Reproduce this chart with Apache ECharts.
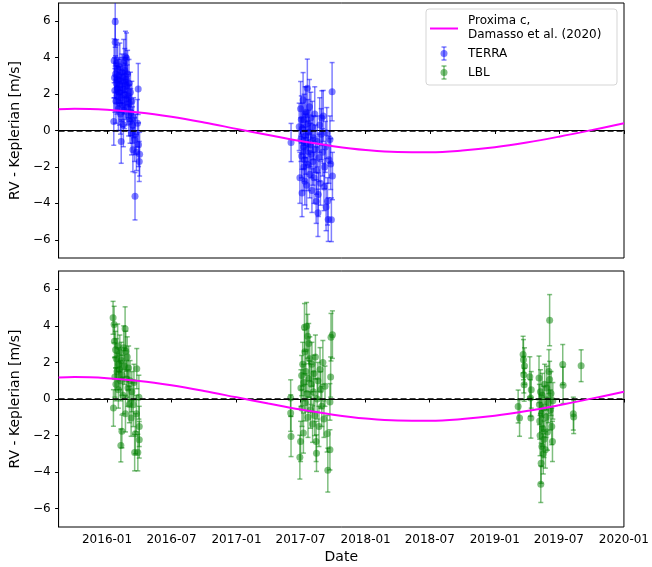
<!DOCTYPE html>
<html>
<head>
<meta charset="utf-8">
<script src="https://cdn.jsdelivr.net/npm/echarts@6/dist/echarts.min.js"></script>
<style>
  html, body { margin: 0; padding: 0; background: #fff; }
  #chart { width: 652px; height: 567px; }
</style>
</head>
<body>
<div id="chart"></div>
<script>
// [date, RV - Keplerian (m/s), error (m/s)]
const terra = [
  ['2016-01-20', 0.49, 1.3], ['2016-01-21', 3.83, 1.2], ['2016-01-22', 2.9, 1.1], ['2016-01-23', 2.2, 1.2],
  ['2016-01-24', 5.97, 1.4], ['2016-01-24', 4.84, 1.3], ['2016-01-25', 3.1, 1.0], ['2016-01-26', 1.6, 1.2],
  ['2016-01-27', 2.6, 1.1], ['2016-01-28', 3.69, 1.3], ['2016-01-29', 1.9, 1.0], ['2016-01-30', 2.3, 1.2],
  ['2016-01-31', 3.4, 1.3], ['2016-02-01', 2.8, 1.1], ['2016-02-02', 1.2, 1.2], ['2016-02-03', 3.0, 1.0],
  ['2016-02-04', 2.1, 1.1], ['2016-02-05', 1.5, 1.2], ['2016-02-06', 3.5, 1.3], ['2016-02-07', 2.5, 1.0],
  ['2016-02-08', 0.9, 1.1], ['2016-02-09', 2.7, 1.2], ['2016-02-10', -0.6, 1.2], ['2016-02-11', 1.8, 1.3],
  ['2016-02-12', 3.2, 1.0], ['2016-02-13', 2.2, 1.1], ['2016-02-14', 1.4, 1.2], ['2016-02-15', 2.9, 1.1],
  ['2016-02-16', 0.31, 1.2], ['2016-02-17', 3.7, 1.3], ['2016-02-18', 2.0, 1.1], ['2016-02-19', 1.1, 1.0],
  ['2016-02-20', 3.3, 1.2], ['2016-02-21', 2.4, 1.3], ['2016-02-22', 4.05, 1.4], ['2016-02-23', 1.7, 1.1],
  ['2016-02-24', 2.8, 1.2], ['2016-02-25', 3.96, 1.4], ['2016-02-26', 1.3, 1.0], ['2016-02-27', 2.5, 1.1],
  ['2016-02-28', 3.1, 1.3], ['2016-03-01', 1.9, 1.2], ['2016-03-02', 0.8, 1.1], ['2016-03-03', 2.6, 1.3],
  ['2016-03-04', 1.5, 1.0], ['2016-03-06', 0.5, 1.2], ['2016-03-07', 2.1, 1.1], ['2016-03-08', 1.0, 1.3],
  ['2016-03-10', -0.14, 1.2], ['2016-03-11', 1.6, 1.1], ['2016-03-13', 0.3, 1.0], ['2016-03-14', -1.06, 1.2],
  ['2016-03-16', 0.7, 1.1], ['2016-03-20', -3.61, 1.3], ['2016-03-19', -0.5, 1.2], ['2016-03-21', -0.2, 1.1],
  ['2016-03-24', -1.2, 1.0], ['2016-03-27', 0.4, 1.3], ['2016-03-29', 2.28, 1.4], ['2016-03-30', -0.78, 1.2],
  ['2016-04-01', -1.70, 1.1], ['2016-04-02', -1.3, 1.2],
  ['2017-06-04', -0.66, 1.05], ['2017-06-27', 0.2, 1.3], ['2017-06-29', -2.6, 1.4], ['2017-07-01', 1.19, 1.5],
  ['2017-07-02', -0.5, 1.2], ['2017-07-03', 0.6, 1.3], ['2017-07-04', -1.4, 1.2], ['2017-07-05', -3.43, 1.3],
  ['2017-07-06', 0.1, 1.4], ['2017-07-08', 1.68, 1.5], ['2017-07-09', -0.9, 1.2], ['2017-07-10', -2.0, 1.3],
  ['2017-07-11', 0.59, 1.4], ['2017-07-12', -1.6, 1.2], ['2017-07-13', -2.79, 1.3], ['2017-07-14', 0.9, 1.5],
  ['2017-07-15', -0.3, 1.2], ['2017-07-16', -1.1, 1.3], ['2017-07-17', 1.0, 1.4], ['2017-07-18', -3.0, 1.3],
  ['2017-07-20', 2.32, 1.6], ['2017-07-21', -0.7, 1.2], ['2017-07-22', 0.4, 1.3], ['2017-07-23', -1.9, 1.4],
  ['2017-07-24', -0.1, 1.2], ['2017-07-26', 1.3, 1.5], ['2017-07-27', -2.4, 1.3], ['2017-07-28', -0.8, 1.2],
  ['2017-07-30', 0.7, 1.4], ['2017-07-31', -1.3, 1.3], ['2017-08-02', -3.3, 1.2], ['2017-08-03', 0.2, 1.4],
  ['2017-08-05', -1.7, 1.3], ['2017-08-06', -0.4, 1.2], ['2017-08-08', -2.6, 1.4], ['2017-08-10', 0.9, 1.5],
  ['2017-08-12', -1.0, 1.3], ['2017-08-14', -3.9, 1.2], ['2017-08-15', -2.2, 1.3], ['2017-08-17', -0.6, 1.4],
  ['2017-08-19', -4.52, 1.3], ['2017-08-20', -3.52, 1.2], ['2017-08-22', -1.5, 1.3], ['2017-08-24', 0.3, 1.5],
  ['2017-08-26', -2.9, 1.2], ['2017-08-28', -0.2, 1.4], ['2017-08-30', 0.68, 1.5], ['2017-09-01', -1.2, 1.3],
  ['2017-09-03', 0.8, 1.4], ['2017-09-05', -3.1, 1.3], ['2017-09-07', -2.0, 1.2], ['2017-09-09', -0.9, 1.4],
  ['2017-09-11', -4.2, 1.3], ['2017-09-13', -0.14, 1.4], ['2017-09-15', -3.89, 1.3], ['2017-09-17', -4.89, 1.2],
  ['2017-09-19', -1.6, 1.3], ['2017-09-22', -0.5, 1.3], ['2017-09-24', -1.84, 1.4], ['2017-09-26', -4.9, 1.2],
  ['2017-09-28', 2.13, 1.6], ['2017-09-29', -2.5, 1.3]
];

const lbl = [
  ['2016-01-18', 4.44, 0.9], ['2016-01-19', -0.49, 1.0], ['2016-01-21', 4.07, 1.0], ['2016-01-22', 3.16, 0.9],
  ['2016-01-23', 1.2, 1.1], ['2016-01-25', 2.70, 1.0], ['2016-01-26', 0.8, 0.9], ['2016-01-27', 2.2, 1.1],
  ['2016-01-29', 1.5, 1.0], ['2016-01-31', 2.9, 1.2], ['2016-02-02', 0.5, 1.0], ['2016-02-03', 1.9, 0.9],
  ['2016-02-05', 1.61, 1.1], ['2016-02-06', 2.5, 1.0], ['2016-02-08', 1.0, 1.1], ['2016-02-09', -2.54, 0.9],
  ['2016-02-10', 2.1, 1.0], ['2016-02-12', -1.77, 0.9], ['2016-02-13', 1.3, 1.1], ['2016-02-15', 0.2, 1.0],
  ['2016-02-17', 2.8, 1.2], ['2016-02-19', 1.8, 1.0], ['2016-02-21', 3.84, 1.2], ['2016-02-22', -0.80, 1.0],
  ['2016-02-23', 2.61, 1.1], ['2016-02-25', 1.1, 1.0], ['2016-02-27', 2.3, 1.1], ['2016-02-29', 0.6, 1.0],
  ['2016-03-02', 1.7, 1.2], ['2016-03-04', -0.3, 1.0], ['2016-03-06', 1.0, 1.1], ['2016-03-09', -1.04, 1.0],
  ['2016-03-11', 0.4, 1.1], ['2016-03-19', -2.93, 1.0], ['2016-03-15', -0.31, 1.2], ['2016-03-17', 0.9, 1.0],
  ['2016-03-21', -1.9, 1.1], ['2016-03-28', -2.93, 1.0], ['2016-03-25', 1.66, 1.1], ['2016-03-24', -0.8, 1.0],
  ['2016-04-01', -1.50, 1.1], ['2016-04-01', -2.23, 1.0], ['2016-03-31', 0.1, 1.2],
  ['2017-06-03', 0.05, 1.0], ['2017-06-03', -0.77, 1.0], ['2017-06-04', -2.05, 1.1], ['2017-06-29', -3.18, 1.2],
  ['2017-07-01', -2.32, 1.1], ['2017-07-02', 0.6, 1.0], ['2017-07-04', 1.28, 1.1], ['2017-07-05', -0.5, 1.0],
  ['2017-07-07', 1.9, 1.2], ['2017-07-09', -1.86, 1.1], ['2017-07-10', 0.9, 1.0], ['2017-07-12', 3.92, 1.3],
  ['2017-07-13', 2.58, 1.2], ['2017-07-14', -0.2, 1.0], ['2017-07-16', 1.5, 1.1], ['2017-07-18', 3.98, 1.3],
  ['2017-07-19', 0.3, 1.0], ['2017-07-21', 3.43, 1.2], ['2017-07-22', -1.0, 1.1], ['2017-07-24', 3.03, 1.1],
  ['2017-07-25', 1.1, 1.0], ['2017-07-27', 2.2, 1.2], ['2017-07-29', -0.6, 1.0], ['2017-07-31', 0.8, 1.1],
  ['2017-08-02', 1.9, 1.2], ['2017-08-04', -1.37, 1.0], ['2017-08-06', 0.4, 1.1], ['2017-08-08', 1.4, 1.0],
  ['2017-08-10', -0.9, 1.1], ['2017-08-12', 2.3, 1.2], ['2017-08-14', -2.32, 1.1], ['2017-08-15', -2.96, 1.0],
  ['2017-08-17', 0.0, 1.1], ['2017-08-19', 1.0, 1.0], ['2017-08-22', -1.5, 1.1], ['2017-08-25', 1.61, 1.2],
  ['2017-08-27', 0.5, 1.0], ['2017-08-30', -0.4, 1.1], ['2017-09-02', 2.0, 1.2], ['2017-09-05', -1.1, 1.0],
  ['2017-09-08', 0.7, 1.1], ['2017-09-16', -3.89, 1.2], ['2017-09-14', -1.9, 1.0], ['2017-09-22', -2.78, 1.1],
  ['2017-09-22', -0.16, 1.0], ['2017-09-25', 3.38, 1.3], ['2017-09-29', 3.52, 1.3], ['2017-09-24', 1.2, 1.1],
  ['2019-03-08', -0.41, 0.9], ['2019-03-12', -1.04, 1.0], ['2019-03-22', 2.43, 1.0], ['2019-03-23', 2.15, 1.1],
  ['2019-03-24', 1.33, 1.0], ['2019-03-25', 0.78, 0.9], ['2019-03-26', 1.8, 1.0], ['2019-04-10', 1.21, 1.1],
  ['2019-04-12', 0.05, 1.0], ['2019-04-13', -1.04, 1.1], ['2019-04-14', 0.5, 1.0], ['2019-05-06', 1.15, 1.2],
  ['2019-05-07', -0.3, 1.1], ['2019-05-08', -1.2, 1.0], ['2019-05-09', -2.0, 1.1], ['2019-05-10', 0.4, 1.2],
  ['2019-05-11', -4.66, 1.0], ['2019-05-12', -3.51, 1.1], ['2019-05-13', -0.8, 1.0], ['2019-05-14', -2.6, 1.1],
  ['2019-05-15', 0.2, 1.2], ['2019-05-16', -1.6, 1.0], ['2019-05-18', -3.0, 1.1], ['2019-05-19', -0.5, 1.2],
  ['2019-05-20', -2.2, 1.0], ['2019-05-22', 0.8, 1.1], ['2019-05-24', -2.78, 1.0], ['2019-05-26', -1.0, 1.1],
  ['2019-05-28', 0.6, 1.2], ['2019-05-30', -1.8, 1.0], ['2019-06-01', -0.2, 1.1], ['2019-06-03', 1.5, 1.2],
  ['2019-06-05', 4.31, 1.4], ['2019-06-05', 1.06, 1.0], ['2019-06-07', -0.6, 1.1], ['2019-06-09', 0.3, 1.2],
  ['2019-06-11', -1.50, 1.0], ['2019-06-13', -2.32, 1.1], ['2019-06-14', -0.1, 1.0], ['2019-07-12', 1.88, 1.1],
  ['2019-07-13', 0.75, 1.0], ['2019-08-11', -0.80, 0.9], ['2019-08-12', -0.99, 0.9], ['2019-09-02', 1.82, 0.87]
];

// Proxima c Keplerian model, Damasso et al. (2020)
const modelCurve = [
  ['2015-08-17', 1.17], ['2015-10-01', 1.20], ['2016-01-01', 1.14], ['2016-04-01', 0.99],
  ['2016-07-01', 0.75], ['2016-10-01', 0.44], ['2017-01-01', 0.09], ['2017-04-01', -0.25],
  ['2017-07-01', -0.58], ['2017-10-01', -0.86], ['2018-01-01', -1.07], ['2018-04-01', -1.18],
  ['2018-07-01', -1.19], ['2018-10-01', -1.10], ['2019-01-01', -0.92], ['2019-04-01', -0.66],
  ['2019-07-01', -0.34], ['2019-10-01', 0.02], ['2020-01-01', 0.40]
];

const xTickDates = ['2016-01-01', '2016-07-01', '2017-01-01', '2017-07-01', '2018-01-01',
  '2018-07-01', '2019-01-01', '2019-07-01', '2020-01-01'];
const xRange = ['2015-08-17', '2020-01-01'];
const yTicks = [-6, -4, -2, 0, 2, 4, 6];
const yRange = [-7, 7];

const FONT = 'DejaVu Sans';
const TERRA_COLOR = 'rgba(0,0,255,0.5)';
const LBL_COLOR = 'rgba(0,128,0,0.5)';
const t = s => Date.parse(s);
const pad = n => (n < 10 ? '0' : '') + n;

const chart = echarts.init(document.getElementById('chart'), null, { renderer: 'canvas' });

const grids = [
  { left: 53, top: 3, width: 571, height: 255 },
  { left: 53, top: 271, width: 571, height: 256 }
].map(g => Object.assign(g, { show: true, borderColor: '#000', borderWidth: 1, backgroundColor: 'transparent' }));

const xAxes = [0, 1].map(i => ({
  type: 'value',
  gridIndex: i,
  min: t(xRange[0]),
  max: t(xRange[1]),
  splitLine: { show: false },
  axisLine: { show: true, lineStyle: { color: '#000', width: 1 } },
  axisTick: { show: true, length: 3.5, lineStyle: { color: '#000' }, customValues: xTickDates.map(t) },
  axisLabel: {
    show: i === 1,
    customValues: xTickDates.map(t),
    margin: 7,
    color: '#000',
    fontFamily: FONT,
    fontSize: 12,
    formatter: v => { const d = new Date(v); return d.getUTCFullYear() + '-' + pad(d.getUTCMonth() + 1); }
  },
  name: i === 1 ? 'Date' : '',
  nameLocation: 'middle',
  nameGap: 23,
  nameTextStyle: { color: '#000', fontFamily: FONT, fontSize: 14 }
}));

const yAxes = [0, 1].map(i => ({
  type: 'value',
  gridIndex: i,
  min: yRange[0],
  max: yRange[1],
  splitLine: { show: false },
  axisLine: { show: true, lineStyle: { color: '#000', width: 1 } },
  axisTick: { show: true, length: 3.5, lineStyle: { color: '#000' }, customValues: yTicks },
  axisLabel: {
    customValues: yTicks,
    margin: 8,
    color: '#000',
    fontFamily: FONT,
    fontSize: 12,
    formatter: v => String(v).replace('-', '\u2212')
  },
  name: 'RV - Keplerian [m/s]',
  nameLocation: 'middle',
  nameGap: 31,
  nameTextStyle: { color: '#000', fontFamily: FONT, fontSize: 14 }
}));

// vertical error bars with caps
function errorBars(data, color, idx) {
  return {
    type: 'custom',
    xAxisIndex: idx,
    yAxisIndex: idx,
    silent: true,
    clip: true,
    z: 2,
    data: data.map(d => [t(d[0]), d[1], d[2]]),
    renderItem: (params, api) => {
      const x = api.value(0), y = api.value(1), e = api.value(2);
      const hi = api.coord([x, y + e]);
      const lo = api.coord([x, y - e]);
      const cw = 2.5;
      const st = { stroke: color, lineWidth: 1.5, fill: null };
      return {
        type: 'group',
        children: [
          { type: 'line', shape: { x1: hi[0], y1: hi[1], x2: lo[0], y2: lo[1] }, style: st },
          { type: 'line', shape: { x1: hi[0] - cw, y1: hi[1], x2: hi[0] + cw, y2: hi[1] }, style: st },
          { type: 'line', shape: { x1: lo[0] - cw, y1: lo[1], x2: lo[0] + cw, y2: lo[1] }, style: st }
        ]
      };
    }
  };
}

function points(data, color, idx) {
  return {
    type: 'scatter',
    xAxisIndex: idx,
    yAxisIndex: idx,
    silent: true,
    z: 3,
    symbol: 'circle',
    symbolSize: 7,
    itemStyle: { color: color, opacity: 1 },
    data: data.map(d => [t(d[0]), d[1]])
  };
}

function model(idx) {
  return {
    type: 'line',
    xAxisIndex: idx,
    yAxisIndex: idx,
    silent: true,
    z: 5,
    smooth: 0.4,
    showSymbol: false,
    lineStyle: { color: '#ff00ff', width: 2 },
    data: modelCurve.map(d => [t(d[0]), d[1]]),
    markLine: {
      silent: true,
      symbol: 'none',
      label: { show: false },
      lineStyle: { color: '#000', width: 1.5, type: [6, 3] },
      data: [{ yAxis: 0 }],
      z: 4
    }
  };
}

// legend drawn by hand to match the two-line label
const LX = 426, LY = 9;
const legendGraphic = [
  { type: 'rect', shape: { x: LX, y: LY, width: 191, height: 76, r: 3 },
    style: { fill: 'rgba(255,255,255,0.8)', stroke: '#d5d5d5', lineWidth: 1 }, z: 10 },
  { type: 'line', shape: { x1: 430, y1: 28.5, x2: 458, y2: 28.5 }, style: { stroke: '#ff00ff', lineWidth: 2 }, z: 11 },
  { type: 'text', x: 468, y: 21, style: { text: 'Proxima c,', fill: '#000', font: '12px "DejaVu Sans"', verticalAlign: 'middle' }, z: 11 },
  { type: 'text', x: 468, y: 35, style: { text: 'Damasso et al. (2020)', fill: '#000', font: '12px "DejaVu Sans"', verticalAlign: 'middle' }, z: 11 },
  { type: 'text', x: 468, y: 53.5, style: { text: 'TERRA', fill: '#000', font: '12px "DejaVu Sans"', verticalAlign: 'middle' }, z: 11 },
  { type: 'text', x: 468, y: 72.5, style: { text: 'LBL', fill: '#000', font: '12px "DejaVu Sans"', verticalAlign: 'middle' }, z: 11 }
];
[[53.5, TERRA_COLOR], [72.5, LBL_COLOR]].forEach(([cy, c]) => {
  const st = { stroke: c, lineWidth: 1.5 };
  legendGraphic.push(
    { type: 'line', shape: { x1: 444, y1: cy - 6.5, x2: 444, y2: cy + 6.5 }, style: st, z: 11 },
    { type: 'line', shape: { x1: 441.5, y1: cy - 6.5, x2: 446.5, y2: cy - 6.5 }, style: st, z: 11 },
    { type: 'line', shape: { x1: 441.5, y1: cy + 6.5, x2: 446.5, y2: cy + 6.5 }, style: st, z: 11 },
    { type: 'circle', shape: { cx: 444, cy: cy, r: 3.5 }, style: { fill: c }, z: 11 }
  );
});

const option = {
  animation: false,
  backgroundColor: '#fff',
  grid: grids,
  xAxis: xAxes,
  yAxis: yAxes,
  graphic: legendGraphic,
  series: [
    errorBars(terra, TERRA_COLOR, 0),
    points(terra, TERRA_COLOR, 0),
    model(0),
    errorBars(lbl, LBL_COLOR, 1),
    points(lbl, LBL_COLOR, 1),
    model(1)
  ]
};

chart.setOption(option);
window.addEventListener('resize', () => chart.resize());
</script>
</body>
</html>
